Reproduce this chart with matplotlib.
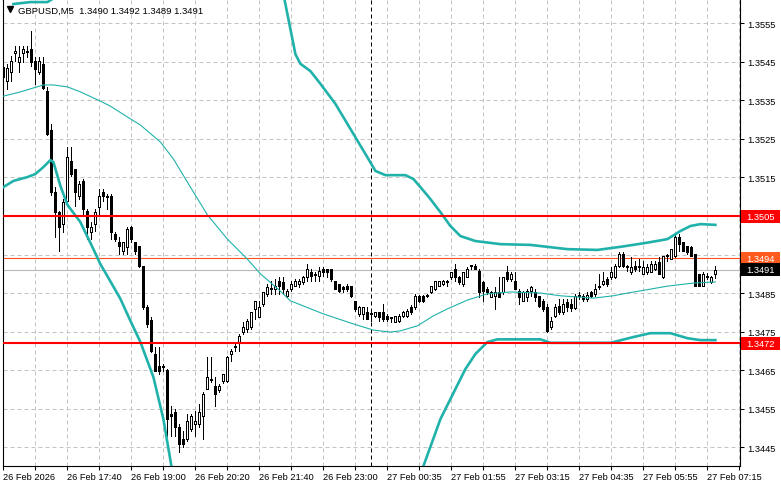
import numpy as np
import matplotlib
matplotlib.use("Agg")
import matplotlib.pyplot as plt
from matplotlib.patches import Rectangle
from matplotlib.transforms import blended_transform_factory

plt.rcParams['font.family'] = ['Liberation Sans', 'DejaVu Sans']

# ---------------- data (GBPUSD M5) ----------------
open_ = [1.35437, 1.35400, 1.35424, 1.35473, 1.35450, 1.35473, 1.35478, 1.35483, 1.35452, 1.35424,
         1.35444, 1.35374, 1.35273, 1.35112, 1.35060, 1.35029, 1.35089, 1.35193, 1.35172, 1.35102,
         1.35141, 1.35063, 1.35009, 1.35029, 1.35073, 1.35112, 1.35102, 1.35102, 1.35003, 1.34983,
         1.34959, 1.34970, 1.35021, 1.34983, 1.34972, 1.34920, 1.34814, 1.34780, 1.34692, 1.34661,
         1.34661, 1.34651, 1.34536, 1.34541, 1.34503, 1.34471, 1.34471, 1.34497, 1.34510, 1.34510,
         1.34531, 1.34601, 1.34625, 1.34609, 1.34599, 1.34622, 1.34622, 1.34692, 1.34710, 1.34723,
         1.34749, 1.34757, 1.34762, 1.34809, 1.34788, 1.34822, 1.34848, 1.34861, 1.34861, 1.34881,
         1.34879, 1.34843, 1.34861, 1.34868, 1.34874, 1.34879, 1.34892, 1.34905, 1.34900, 1.34894,
         1.34913, 1.34913, 1.34913, 1.34881, 1.34874, 1.34866, 1.34868, 1.34868, 1.34830, 1.34796,
         1.34796, 1.34801, 1.34796, 1.34791, 1.34801, 1.34801, 1.34791, 1.34788, 1.34775, 1.34778,
         1.34791, 1.34791, 1.34814, 1.34814, 1.34843, 1.34843, 1.34843, 1.34853, 1.34861, 1.34868,
         1.34874, 1.34879, 1.34892, 1.34913, 1.34892, 1.34874, 1.34892, 1.34920, 1.34920, 1.34907,
         1.34879, 1.34861, 1.34840, 1.34843, 1.34853, 1.34853, 1.34905, 1.34887, 1.34881, 1.34855,
         1.34830, 1.34840, 1.34855, 1.34853, 1.34843, 1.34830, 1.34814, 1.34762, 1.34791, 1.34817,
         1.34801, 1.34827, 1.34822, 1.34811, 1.34843, 1.34843, 1.34835, 1.34853, 1.34848, 1.34868,
         1.34874, 1.34887, 1.34892, 1.34892, 1.34920, 1.34951, 1.34918, 1.34905, 1.34920, 1.34918,
         1.34900, 1.34905, 1.34905, 1.34913, 1.34931, 1.34892, 1.34946, 1.34938, 1.34946, 1.34996,
         1.34983, 1.34972, 1.34970, 1.34951, 1.34900, 1.34868, 1.34894, 1.34879, 1.34900]

high = [1.35447, 1.35444, 1.35465, 1.35491, 1.35491, 1.35491, 1.35491, 1.35530, 1.35463, 1.35463,
        1.35463, 1.35385, 1.35289, 1.35125, 1.35063, 1.35094, 1.35229, 1.35229, 1.35172, 1.35141,
        1.35146, 1.35068, 1.35034, 1.35068, 1.35120, 1.35120, 1.35107, 1.35107, 1.35009, 1.34996,
        1.34983, 1.35021, 1.35024, 1.34983, 1.34972, 1.34920, 1.34819, 1.34788, 1.34710, 1.34710,
        1.34666, 1.34653, 1.34557, 1.34549, 1.34510, 1.34492, 1.34536, 1.34536, 1.34544, 1.34562,
        1.34593, 1.34684, 1.34684, 1.34632, 1.34614, 1.34640, 1.34687, 1.34705, 1.34718, 1.34744,
        1.34775, 1.34783, 1.34801, 1.34830, 1.34830, 1.34853, 1.34874, 1.34881, 1.34887, 1.34892,
        1.34892, 1.34861, 1.34881, 1.34887, 1.34887, 1.34894, 1.34925, 1.34913, 1.34905, 1.34918,
        1.34918, 1.34913, 1.34913, 1.34881, 1.34874, 1.34868, 1.34874, 1.34868, 1.34830, 1.34817,
        1.34814, 1.34814, 1.34801, 1.34801, 1.34801, 1.34822, 1.34796, 1.34788, 1.34791, 1.34796,
        1.34804, 1.34809, 1.34819, 1.34848, 1.34845, 1.34845, 1.34848, 1.34868, 1.34881, 1.34881,
        1.34884, 1.34884, 1.34905, 1.34925, 1.34894, 1.34905, 1.34918, 1.34923, 1.34925, 1.34913,
        1.34881, 1.34866, 1.34855, 1.34866, 1.34892, 1.34892, 1.34920, 1.34905, 1.34905, 1.34861,
        1.34855, 1.34861, 1.34868, 1.34861, 1.34843, 1.34835, 1.34822, 1.34788, 1.34822, 1.34835,
        1.34835, 1.34835, 1.34835, 1.34848, 1.34853, 1.34848, 1.34853, 1.34855, 1.34874, 1.34900,
        1.34905, 1.34892, 1.34918, 1.34925, 1.34957, 1.34957, 1.34923, 1.34944, 1.34933, 1.34938,
        1.34933, 1.34925, 1.34933, 1.34933, 1.34944, 1.34946, 1.34951, 1.34964, 1.35003, 1.35003,
        1.34983, 1.34972, 1.34972, 1.34951, 1.34900, 1.34905, 1.34902, 1.34894, 1.34920]

low = [1.35395, 1.35380, 1.35400, 1.35452, 1.35424, 1.35450, 1.35463, 1.35439, 1.35393, 1.35418,
       1.35380, 1.35260, 1.35105, 1.34996, 1.34959, 1.35009, 1.35089, 1.35154, 1.35076, 1.35094,
       1.35055, 1.34990, 1.34990, 1.35011, 1.35055, 1.35089, 1.35068, 1.34990, 1.34985, 1.34951,
       1.34951, 1.34951, 1.34983, 1.34951, 1.34918, 1.34809, 1.34762, 1.34697, 1.34648, 1.34640,
       1.34648, 1.34479, 1.34479, 1.34479, 1.34438, 1.34451, 1.34466, 1.34492, 1.34479, 1.34503,
       1.34471, 1.34601, 1.34619, 1.34557, 1.34593, 1.34617, 1.34619, 1.34674, 1.34700, 1.34700,
       1.34744, 1.34749, 1.34757, 1.34783, 1.34788, 1.34817, 1.34843, 1.34848, 1.34848, 1.34848,
       1.34848, 1.34840, 1.34855, 1.34868, 1.34866, 1.34874, 1.34881, 1.34881, 1.34881, 1.34881,
       1.34894, 1.34892, 1.34881, 1.34861, 1.34853, 1.34853, 1.34855, 1.34840, 1.34804, 1.34791,
       1.34783, 1.34783, 1.34778, 1.34788, 1.34778, 1.34778, 1.34778, 1.34775, 1.34775, 1.34775,
       1.34788, 1.34788, 1.34796, 1.34809, 1.34827, 1.34827, 1.34840, 1.34850, 1.34858, 1.34868,
       1.34871, 1.34868, 1.34887, 1.34881, 1.34874, 1.34868, 1.34892, 1.34913, 1.34913, 1.34840,
       1.34830, 1.34848, 1.34840, 1.34809, 1.34840, 1.34848, 1.34881, 1.34881, 1.34861, 1.34822,
       1.34830, 1.34830, 1.34843, 1.34830, 1.34814, 1.34804, 1.34749, 1.34757, 1.34788, 1.34796,
       1.34796, 1.34804, 1.34804, 1.34809, 1.34835, 1.34830, 1.34830, 1.34840, 1.34843, 1.34861,
       1.34871, 1.34868, 1.34887, 1.34889, 1.34918, 1.34918, 1.34907, 1.34900, 1.34907, 1.34907,
       1.34900, 1.34900, 1.34905, 1.34910, 1.34900, 1.34889, 1.34933, 1.34938, 1.34944, 1.34959,
       1.34959, 1.34951, 1.34946, 1.34868, 1.34868, 1.34868, 1.34887, 1.34876, 1.34890]

close = [1.35411, 1.35434, 1.35452, 1.35478, 1.35463, 1.35483, 1.35475, 1.35450, 1.35431, 1.35452,
         1.35382, 1.35263, 1.35112, 1.35060, 1.35021, 1.35086, 1.35203, 1.35159, 1.35112, 1.35133,
         1.35068, 1.35021, 1.35021, 1.35060, 1.35102, 1.35102, 1.35099, 1.35009, 1.34990, 1.34972,
         1.34983, 1.35016, 1.34990, 1.34959, 1.34920, 1.34814, 1.34770, 1.34700, 1.34648, 1.34648,
         1.34658, 1.34523, 1.34531, 1.34503, 1.34458, 1.34458, 1.34518, 1.34531, 1.34518, 1.34541,
         1.34588, 1.34632, 1.34627, 1.34588, 1.34609, 1.34640, 1.34684, 1.34700, 1.34713, 1.34739,
         1.34762, 1.34778, 1.34801, 1.34830, 1.34814, 1.34853, 1.34866, 1.34863, 1.34868, 1.34868,
         1.34861, 1.34855, 1.34874, 1.34881, 1.34881, 1.34892, 1.34913, 1.34894, 1.34897, 1.34907,
         1.34905, 1.34905, 1.34887, 1.34861, 1.34855, 1.34861, 1.34861, 1.34843, 1.34809, 1.34814,
         1.34814, 1.34783, 1.34798, 1.34801, 1.34788, 1.34783, 1.34783, 1.34786, 1.34791, 1.34791,
         1.34801, 1.34804, 1.34801, 1.34843, 1.34830, 1.34830, 1.34845, 1.34868, 1.34881, 1.34881,
         1.34881, 1.34881, 1.34905, 1.34892, 1.34879, 1.34905, 1.34913, 1.34922, 1.34913, 1.34853,
         1.34855, 1.34853, 1.34853, 1.34853, 1.34840, 1.34892, 1.34887, 1.34900, 1.34861, 1.34840,
         1.34853, 1.34855, 1.34866, 1.34840, 1.34817, 1.34809, 1.34752, 1.34778, 1.34814, 1.34801,
         1.34822, 1.34814, 1.34811, 1.34843, 1.34845, 1.34835, 1.34845, 1.34843, 1.34861, 1.34866,
         1.34881, 1.34874, 1.34905, 1.34920, 1.34951, 1.34920, 1.34920, 1.34918, 1.34913, 1.34920,
         1.34918, 1.34918, 1.34925, 1.34925, 1.34900, 1.34946, 1.34948, 1.34964, 1.34996, 1.34977,
         1.34959, 1.34957, 1.34946, 1.34868, 1.34868, 1.34900, 1.34892, 1.34892, 1.34910]

# Bollinger bands (read at bar positions; NaN = band outside the visible price range)
mid_pos = [0, 4.25, 10, 12.5, 16, 19.25, 24.25, 26.75, 31.75, 34.25,
           39.25, 42.5, 46.75, 51, 56, 61, 64.25, 69.25, 71.75, 80,
           87.5, 92.5, 96.75, 99.25, 103.5, 107.5, 111, 116, 121, 126.75,
           134.25, 139.25, 147.5, 152.5, 156, 160.5, 166, 172.5, 178]
mid_val = [1.35361, 1.35372, 1.35390, 1.35390, 1.35385, 1.35372, 1.35348, 1.35335, 1.35302, 1.35286,
           1.35242, 1.35198, 1.35125, 1.35053, 1.34990, 1.34938, 1.34900, 1.34855, 1.34830, 1.34796,
           1.34770, 1.34754, 1.34749, 1.34752, 1.34765, 1.34791, 1.34809, 1.34832, 1.34848, 1.34853,
           1.34850, 1.34843, 1.34837, 1.34843, 1.34850, 1.34858, 1.34868, 1.34876, 1.34879]

upper_pos = [2.5, 6.75, 11, 13.5, 14.5, 40, 69.8, 70.5, 73, 74.25, 76.75,
             79.25, 83, 86.75, 90.5, 93, 95.5, 100.5, 102.5, 104.25, 106.75,
             109.25, 111.75, 114.25, 118, 124.25, 131.75, 141, 148.5, 154.25, 160.5,
             166, 169.25, 171.75, 174.25, 178]
upper_val = [1.35600, 1.35605, 1.35605, 1.35621, 1.35630, np.nan, 1.35635, 1.35600, 1.35470, 1.35445, 1.35426,
             1.35393, 1.35341, 1.35276, 1.35211, 1.35167, 1.35156, 1.35156, 1.35146, 1.35125, 1.35094,
             1.35060, 1.35024, 1.34998, 1.34985, 1.34977, 1.34975, 1.34964, 1.34962, 1.34970, 1.34980,
             1.34990, 1.35011, 1.35024, 1.35029, 1.35027]

lower_pos = [0, 2.5, 6, 8, 10, 11.75, 12.5, 14.25, 16, 19.25,
             22.5, 24.25, 26, 29.25, 31.75, 34.25, 37.5, 40, 42, 42.6,
             70, 104.4, 105, 109.25, 113, 115.5, 118, 121, 123.5,
             134.25, 136.75, 151.75, 157.5, 161.75, 166.75, 171, 174.25, 178]
lower_val = [1.35125, 1.35141, 1.35151, 1.35159, 1.35177, 1.35195, 1.35190, 1.35128, 1.35079, 1.35034,
             1.34964, 1.34925, 1.34894, 1.34835, 1.34778, 1.34723, 1.34632, 1.34523, 1.34401, 1.34370,
             np.nan, 1.34370, 1.34401, 1.34523, 1.34601, 1.34653, 1.34692, 1.34723, 1.34730,
             1.34730, 1.34721, 1.34721, 1.34736, 1.34746, 1.34746, 1.34733, 1.34728, 1.34728]

x_tick_labels = ["26 Feb 2026", "26 Feb 17:40", "26 Feb 19:00", "26 Feb 20:20", "26 Feb 21:40",
                 "26 Feb 23:00", "27 Feb 00:35", "27 Feb 01:55", "27 Feb 03:15", "27 Feb 04:35",
                 "27 Feb 05:55", "27 Feb 07:15"]
price_ticks = [1.3445, 1.3455, 1.3465, 1.3475, 1.3485, 1.3495, 1.3505, 1.3515,
               1.3525, 1.3535, 1.3545, 1.3555]
resistance = 1.3505
support = 1.3472
ask_level = 1.3494
bid_level = 1.3491
day_separator_bar = 92
title = "GBPUSD,M5  1.3490 1.3492 1.3489 1.3491"

# ---------------- figure ----------------
W, H = 781, 489
fig = plt.figure(figsize=(W / 100, H / 100), dpi=100)
fig.patch.set_facecolor('white')
ax = fig.add_axes([3 / W, (H - 467) / H, 737 / W, 467 / H])
ax.set_facecolor('white')

o = np.array(open_); h = np.array(high); l = np.array(low); c = np.array(close)
idx = np.arange(len(c))

ax.set_xlim(-0.1, 184.15)
ax.set_ylim(1.344014, 1.35613)

grid_kw = dict(color='#c4c4c4', lw=0.72, ls=(0, (4, 3)), zorder=1)
for p in price_ticks:
    ax.axhline(p, **grid_kw)
for g in range(8, 185, 8):
    ax.axvline(g, **grid_kw)

ax.axvline(day_separator_bar, color='black', lw=0.72, ls=(0, (4, 3)), zorder=1.5)
ax.axhline(bid_level, color='#b8b8b8', lw=0.8, zorder=1.6)
ax.axhline(ask_level, color='#ff4f1a', lw=0.8, zorder=1.7)

# candles
ax.vlines(idx, l, h, color='black', lw=0.72, zorder=3, antialiased=False)
bull = c >= o
ax.bar(idx, np.abs(c - o), bottom=np.minimum(o, c), width=0.5,
       color=np.where(bull, 'white', 'black'), edgecolor='black', lw=0.72,
       zorder=4, antialiased=False)

# bands
teal = '#20b2aa'
ax.plot(mid_pos, mid_val, color=teal, lw=0.8, zorder=5)
ax.plot(upper_pos, upper_val, color=teal, lw=1.9, zorder=5)
ax.plot(lower_pos, lower_val, color=teal, lw=1.9, zorder=5)

# horizontal levels
ax.axhline(resistance, color='#ff0000', lw=1.5, zorder=6)
ax.axhline(support, color='#ff0000', lw=1.5, zorder=6)

# axes styling
for s in ['left', 'right', 'bottom']:
    ax.spines[s].set_color('black')
    ax.spines[s].set_linewidth(0.8)
ax.spines['top'].set_visible(False)

ax.set_xticks(range(0, 177, 16))
ax.set_xticklabels(x_tick_labels)
ax.set_xticks(range(8, 185, 16), minor=True)
ax.tick_params(axis='x', which='both', direction='out', length=3, width=0.75, pad=1.5,
               labelsize=6.7, colors='black')
for lbl in ax.get_xticklabels():
    lbl.set_ha('left')

ax.yaxis.tick_right()
ax.set_yticks(price_ticks)
ax.set_yticklabels([f"{p:.4f}" for p in price_ticks])
ax.tick_params(axis='y', direction='out', length=3, width=0.75, pad=2, labelsize=6.7,
               colors='black')

# price boxes on the right axis
trans = blended_transform_factory(ax.transAxes, ax.transData)
px_price = 1 / 38545.0
def price_box(p, fc):
    ax.add_patch(Rectangle((1.0015, p - 6.5 * px_price), 39 / 737, 13 * px_price,
                           transform=trans, facecolor=fc, edgecolor='none',
                           clip_on=False, zorder=10))
    ax.text(1.0015 + 19.5 / 737, p, f"{p:.4f}", transform=trans, color='white',
            ha='center', va='center', fontsize=6.7, zorder=11, clip_on=False)

price_box(resistance, '#ff0000')
price_box(ask_level, '#ff5a1e')
price_box(bid_level, '#000000')
price_box(support, '#ff0000')

# title
ax.plot([6.5 / 737], [1 - 10 / 467], marker='v', color='black', markersize=4,
        transform=ax.transAxes, clip_on=False, zorder=12)
ax.text(15 / 737, 1 - 11 / 467, title, transform=ax.transAxes, fontsize=6.8,
        ha='left', va='center', color='black', zorder=12)

fig.savefig('out.png', dpi=100, facecolor='white')
